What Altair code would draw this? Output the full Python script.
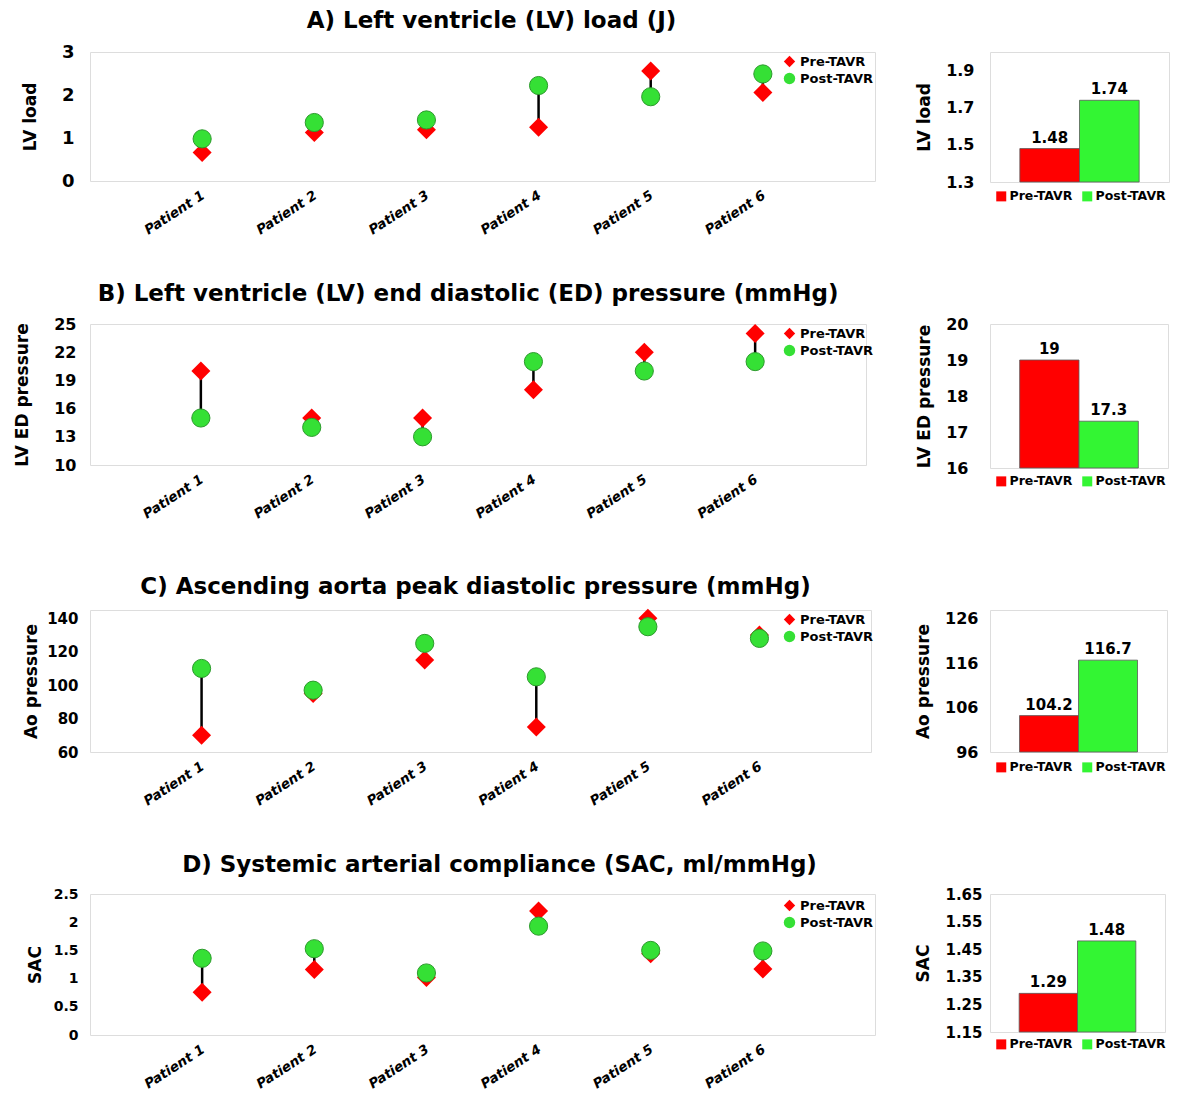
import json
import altair as alt
import pandas as pd

FONT = "DejaVu Sans"

patients = ["Patient 1", "Patient 2", "Patient 3", "Patient 4", "Patient 5", "Patient 6"]
series = ["Pre-TAVR", "Post-TAVR"]

# A) LV load
lv_load_pre = [0.66, 1.13, 1.19, 1.25, 2.56, 2.06]
lv_load_post = [0.98, 1.36, 1.42, 2.22, 1.96, 2.49]
lv_load_mean = [1.48, 1.74]
# B) LV ED pressure
lved_pre = [20, 15, 15, 18, 22, 24]
lved_post = [15, 14, 13, 21, 20, 21]
lved_mean = [19, 17.3]
# C) Ao pressure
ao_pre = [70, 95, 115, 75, 140, 130]
ao_post = [110, 97, 125, 105, 135, 128]
ao_mean = [104.2, 116.7]
# D) SAC
sac_pre = [0.76, 1.16, 1.02, 2.20, 1.44, 1.17]
sac_post = [1.36, 1.53, 1.10, 1.93, 1.50, 1.49]
sac_mean = [1.29, 1.48]

titles = [
    "A)  Left ventricle (LV) load (J)",
    "B)  Left ventricle (LV) end diastolic (ED) pressure (mmHg)",
    "C)  Ascending aorta peak diastolic pressure (mmHg)",
    "D)  Systemic arterial compliance (SAC, ml/mmHg)",
]
y_titles = ["LV load", "LV ED pressure", "Ao pressure", "SAC"]
left_ticks = [[0, 1, 2, 3], [10, 13, 16, 19, 22, 25], [60, 80, 100, 120, 140],
              [0, 0.5, 1, 1.5, 2, 2.5]]
left_domains = [[0, 3], [10, 25], [60, 145], [0, 2.5]]
left_formats = ["d", "d", "d", "~g"]
right_ticks = [[1.3, 1.5, 1.7, 1.9], [16, 17, 18, 19, 20], [96, 106, 116, 126],
               [1.15, 1.25, 1.35, 1.45, 1.55, 1.65]]
right_domains = [[1.3, 2.0], [16, 20], [96, 128], [1.15, 1.65]]
right_formats = [".1f", "d", "d", ".2f"]

pt_colors = ["#FF0000", "#35E035"]
bar_colors = ["#FF0000", "#33F533"]

pre_all = [lv_load_pre, lved_pre, ao_pre, sac_pre]
post_all = [lv_load_post, lved_post, ao_post, sac_post]
mean_all = [lv_load_mean, lved_mean, ao_mean, sac_mean]

# layout (styles only)
left_w = [785, 776, 781, 785]
left_h = [129, 141, 142, 141]
right_w = [179, 178, 177, 175]
right_h = [130, 144, 142, 138]
left_lab_size = [18, 16, 15, 14]
left_lab_pad = [16, 14, 12, 12]
left_title_pad = [22, 22, 6, 9]
right_lab_size = [16, 16, 16, 15]
right_lab_pad = [16, 22, 12, 8]
title_dx = [9, -10, -5, 17]
legend_y = [3, 3, 3, 5]
right_legend_dy = [8, 7, 9, 6]

label_expr = json.dumps(patients) + "[datum.value - 1]"


def left_chart(i):
    n = len(patients)
    pos = list(range(1, n + 1))
    long = pd.DataFrame({
        "pos": pos * 2,
        "series": [series[0]] * n + [series[1]] * n,
        "value": pre_all[i] + post_all[i],
    })
    wide = pd.DataFrame({"pos": pos, "pre": pre_all[i], "post": post_all[i]})
    xenc = alt.X(
        "pos:Q",
        scale=alt.Scale(domain=[0, n + 1], nice=False, zero=False),
        axis=alt.Axis(values=pos, labelExpr=label_expr, labelAngle=-33,
                      labelAlign="right", labelBaseline="top", labelFont=FONT,
                      labelFontStyle="italic", labelFontWeight="bold",
                      labelFontSize=13.5, labelPadding=7, labelOffset=-3,
                      labelOverlap=False, labelFlush=False, ticks=False,
                      domain=False, grid=False, title=None, labelColor="black"),
    )
    yscale = alt.Scale(domain=left_domains[i], nice=False, zero=False)
    yaxis = alt.Axis(values=left_ticks[i], format=left_formats[i], title=y_titles[i],
                     labelFont=FONT, labelFontWeight="bold",
                     labelFontSize=left_lab_size[i], labelPadding=left_lab_pad[i],
                     titleFont=FONT, titleFontWeight="bold", titleFontSize=17,
                     titlePadding=left_title_pad[i], ticks=False, domain=False,
                     grid=False, labelFlush=False, labelColor="black",
                     titleColor="black")
    legend = alt.Legend(orient="none", legendX=693, legendY=legend_y[i],
                        title=None, labelFont=FONT, labelFontWeight="bold",
                        labelFontSize=13, labelColor="black", symbolSize=130,
                        symbolStrokeWidth=0, labelOffset=4, rowPadding=3,
                        padding=0)
    color = alt.Color("series:N", scale=alt.Scale(domain=series, range=pt_colors),
                      legend=legend)
    shape = alt.Shape("series:N",
                      scale=alt.Scale(domain=series, range=["diamond", "circle"]),
                      legend=legend)
    rules = alt.Chart(wide).mark_rule(color="black", strokeWidth=2.5).encode(
        x=xenc, y=alt.Y("pre:Q", scale=yscale, axis=yaxis), y2="post:Q")
    pre_pts = alt.Chart(long).transform_filter(
        alt.datum.series == series[0]
    ).mark_point(filled=True, size=361, opacity=1).encode(
        x=xenc, y=alt.Y("value:Q", scale=yscale, axis=yaxis), color=color,
        shape=shape)
    post_pts = alt.Chart(long).transform_filter(
        alt.datum.series == series[1]
    ).mark_point(filled=True, size=330, opacity=1, stroke="#2C9A2C",
                 strokeWidth=1).encode(
        x=xenc, y=alt.Y("value:Q", scale=yscale, axis=yaxis), color=color,
        shape=shape)
    return alt.layer(rules, pre_pts, post_pts).properties(
        width=left_w[i], height=left_h[i],
        title=alt.Title(titles[i], font=FONT, fontSize=23, fontWeight="bold",
                        anchor="middle", frame="group", offset=10,
                        dx=title_dx[i], color="black"),
    )


def right_chart(i):
    df = pd.DataFrame({"series": series, "value": mean_all[i]})
    x = alt.X("series:N", sort=series,
              scale=alt.Scale(domain=series, paddingInner=0, paddingOuter=0.5),
              axis=None)
    dom = right_domains[i]
    y = alt.Y("value:Q", scale=alt.Scale(domain=dom, nice=False, zero=False),
              axis=alt.Axis(values=right_ticks[i], format=right_formats[i],
                            title=y_titles[i], labelFont=FONT,
                            labelFontWeight="bold", labelFontSize=right_lab_size[i],
                            labelPadding=right_lab_pad[i], titleFont=FONT,
                            titleFontWeight="bold", titleFontSize=17,
                            titlePadding=12, ticks=False, domain=False,
                            grid=False, labelFlush=False, labelColor="black",
                            titleColor="black"))
    legend = alt.Legend(orient="none", direction="horizontal", legendX=5,
                        legendY=right_h[i] + right_legend_dy[i], title=None,
                        symbolType="square", symbolSize=100, symbolStrokeWidth=0,
                        labelFont=FONT, labelFontWeight="bold", labelFontSize=12.5,
                        labelColor="black", labelOffset=2, columnPadding=8,
                        padding=0)
    bars = alt.Chart(df).mark_bar(stroke="#5A5A5A", strokeWidth=0.8).encode(
        x=x, y=y, y2=alt.datum(dom[0]),
        color=alt.Color("series:N", scale=alt.Scale(domain=series, range=bar_colors),
                        legend=legend))
    text = alt.Chart(df).mark_text(baseline="bottom", dy=-3, font=FONT,
                                   fontSize=15, fontWeight="bold",
                                   color="black").encode(
        x=x, y=y, text=alt.Text("value:Q", format="~g"))
    return alt.layer(bars, text).properties(width=right_w[i], height=right_h[i])


charts = []
for i in range(4):
    charts.append(left_chart(i))
    charts.append(right_chart(i))

chart = alt.concat(*charts, columns=2).properties(
    spacing=alt.RowColnumber(row=142, column=115),
    bounds="flush",
    align="each",
    padding={"top": 1, "left": 5, "right": 0, "bottom": 0},
).resolve_scale(
    color="independent", shape="independent", x="independent", y="independent"
).configure_view(
    stroke="#A6A6A6", strokeWidth=1.5
).configure(
    background="white"
)

chart.save("out.html", embed_options={"renderer": "svg", "actions": False})
